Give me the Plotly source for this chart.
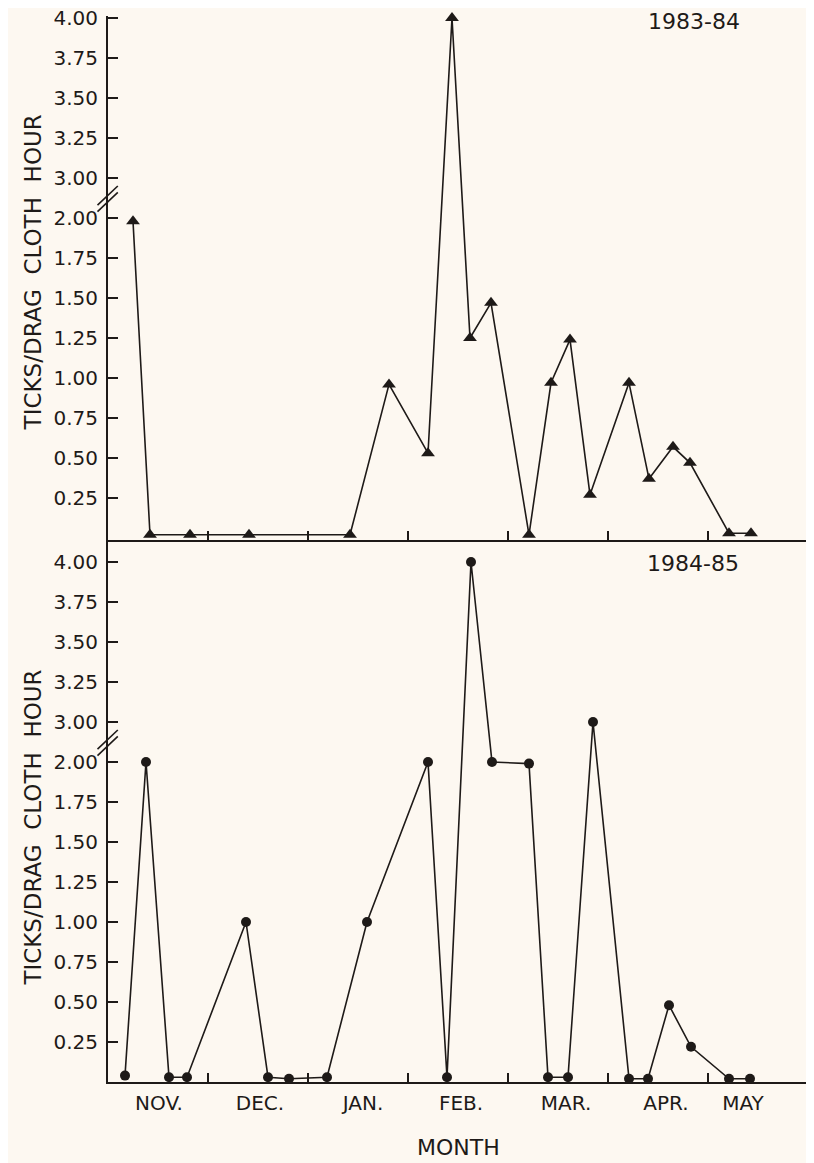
import plotly.graph_objects as go

# ---------------- data ----------------
# x: position in month units from 1 Nov (0 = Nov 1, 1 = Dec 1, ...)
x_8384 = [0.25, 0.42, 0.82, 1.41, 2.42, 2.81, 3.20, 3.44, 3.62, 3.83,
          4.21, 4.43, 4.62, 4.82, 5.21, 5.41, 5.65, 5.82, 6.21, 6.43]
y_8384 = [1.98, 0.02, 0.02, 0.02, 0.02, 0.96, 0.53, 4.00, 1.25, 1.47,
          0.02, 0.97, 1.24, 0.27, 0.97, 0.37, 0.57, 0.47, 0.03, 0.03]

x_8485 = [0.17, 0.38, 0.61, 0.79, 1.38, 1.60, 1.81, 2.19, 2.59, 3.20,
          3.39, 3.63, 3.84, 4.21, 4.40, 4.60, 4.85, 5.21, 5.40, 5.61,
          5.83, 6.21, 6.42]
y_8485 = [0.04, 2.00, 0.03, 0.03, 1.00, 0.03, 0.02, 0.03, 1.00, 2.00,
          0.03, 4.00, 2.00, 1.99, 0.03, 0.03, 3.00, 0.02, 0.02, 0.48,
          0.22, 0.02, 0.02]

months = ["NOV.", "DEC.", "JAN.", "FEB.", "MAR.", "APR.", "MAY"]
month_label_pos = [0.51, 1.52, 2.55, 3.53, 4.58, 5.58, 6.35]
month_bounds = [1, 2, 3, 4, 5, 6, 7]

ytick_values = [0.25, 0.50, 0.75, 1.00, 1.25, 1.50, 1.75, 2.00,
                3.00, 3.25, 3.50, 3.75, 4.00]
ytick_text = ["0.25", "0.50", "0.75", "1.00", "1.25", "1.50", "1.75", "2.00",
              "3.00", "3.25", "3.50", "3.75", "4.00"]

# broken axis: values above the break are shifted down so 3.00 sits one step above 2.00
BREAK_LOW, BREAK_HIGH, STEP = 2.0, 3.0, 0.25


def to_pos(v):
    return v if v <= BREAK_LOW else v - (BREAK_HIGH - BREAK_LOW - STEP)


INK = "#1e1a18"
BG = "#fdf8f1"
FONT = "'DejaVu Sans', Verdana, sans-serif"
FS = 20

fig = go.Figure()

fig.add_trace(go.Scatter(
    x=x_8384, y=[to_pos(v) for v in y_8384], mode="lines+markers",
    line=dict(color=INK, width=1.6),
    marker=dict(symbol="triangle-up", size=12, color=INK),
    cliponaxis=False, xaxis="x", yaxis="y", showlegend=False))

fig.add_trace(go.Scatter(
    x=x_8485, y=[to_pos(v) for v in y_8485], mode="lines+markers",
    line=dict(color=INK, width=1.6),
    marker=dict(symbol="circle", size=10, color=INK),
    cliponaxis=False, xaxis="x2", yaxis="y2", showlegend=False))

# figure is drawn 8px in from the page edge (body margin)
TOP, BOTTOM, SPLIT_PX = 8, 1074, 532
split = (BOTTOM - SPLIT_PX) / float(BOTTOM - TOP)

common_x = dict(range=[0, 7], showgrid=False, zeroline=False, showline=True,
                linecolor=INK, linewidth=2, automargin=False,
                tickmode="array", tickvals=month_label_pos, ticklen=0,
                minor=dict(tickmode="array", tickvals=month_bounds, ticks="inside",
                           ticklen=9, tickwidth=2, tickcolor=INK, showgrid=False))

yax = dict(showgrid=False, zeroline=False, showline=True, linecolor=INK, linewidth=2,
           tickmode="array", tickvals=[to_pos(v) for v in ytick_values],
           ticktext=ytick_text, ticks="inside", ticklen=10, tickwidth=2,
           tickcolor=INK, ticklabelstandoff=4, tickfont=dict(size=FS),
           ticklabeloverflow="allow", automargin=False)

fig.update_layout(
    width=806, height=1155,
    margin=dict(l=100, r=6, t=TOP, b=1155 - BOTTOM, autoexpand=False),
    paper_bgcolor=BG, plot_bgcolor=BG,
    font=dict(family=FONT, color=INK, size=FS),
    xaxis=dict(**common_x, anchor="y", showticklabels=False),
    yaxis=dict(**yax, domain=[split, 1.0], range=[-0.0125, 3.2625], anchor="x"),
    xaxis2=dict(**common_x, anchor="y2", showticklabels=True,
                ticktext=months, tickfont=dict(size=FS), ticklabelstandoff=2),
    yaxis2=dict(**yax, domain=[0, split], range=[0, (1082 - 540) / 160.0], anchor="x2"),
)

# axis titles and panel labels
title_txt = "TICKS/DRAG\u00a0\u00a0CLOTH\u00a0\u00a0HOUR"
fig.add_annotation(text=title_txt, xref="paper", yref="y", x=0, y=1.66,
                   xshift=-90, textangle=-90, showarrow=False, font=dict(size=23))
fig.add_annotation(text=title_txt, xref="paper", yref="y2", x=0, y=1.59,
                   xshift=-90, textangle=-90, showarrow=False, font=dict(size=23))
fig.add_annotation(text="1983-84", xref="x", yref="y", x=5.86, y=3.23,
                   showarrow=False, font=dict(size=22))
fig.add_annotation(text="1984-85", xref="x2", yref="y2", x=5.85, y=3.24,
                   showarrow=False, font=dict(size=22))
fig.add_annotation(text="MONTH", xref="x2", yref="paper", x=3.5, y=0,
                   yshift=-80, showarrow=False, font=dict(size=22))

# axis break marks (//)
for yr in ["y", "y2"]:
    for dy in (0.0, 0.04):
        fig.add_shape(type="line", xref="x domain" if yr == "y" else "x2 domain", yref=yr,
                      x0=-0.015, x1=0.014, y0=2.04 + dy, y1=2.16 + dy,
                      line=dict(color=INK, width=1.6))

fig.write_html("out.html")
